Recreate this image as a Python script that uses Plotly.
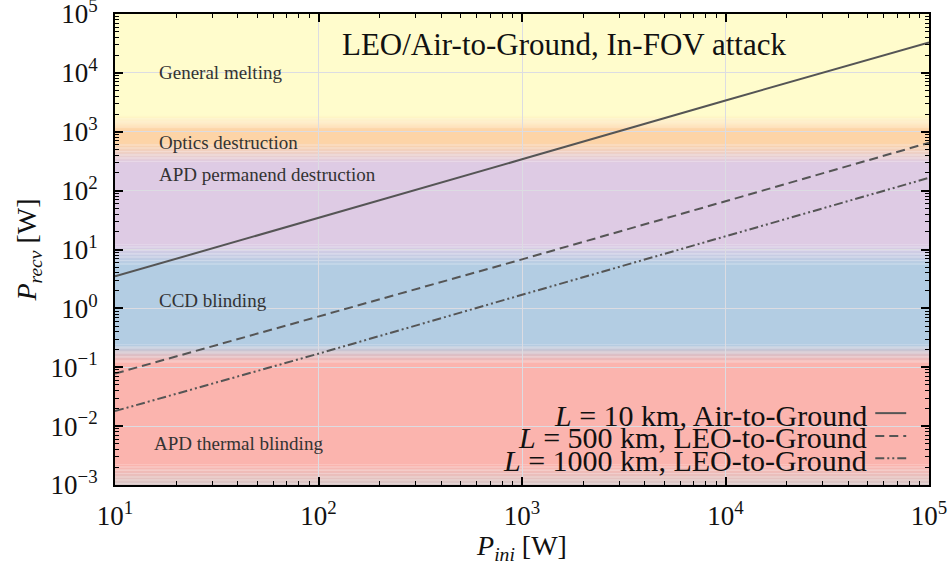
import plotly.graph_objects as go
import math

# ---------------- data ----------------
p_ini = [10, 100, 1000, 10000, 100000]
recv_10km = [3.5, 34, 340, 3400, 33000]
recv_500km = [0.078, 0.72, 6.8, 66, 650]
recv_1000km = [0.018, 0.17, 1.7, 16.5, 165]

series_names = ["<i>L</i> = 10 km, Air-to-Ground",
                "<i>L</i> = 500 km, LEO-to-Ground",
                "<i>L</i> = 1000 km, LEO-to-Ground"]
series_dash = ["solid", "9px,5px", "9px,3px,2px,3px,2px,3px"]

# bands (top to bottom): colour and label
band_colors = ["#fffccc", "#fdd4a7", "#decbe4", "#b3cde3", "#fbb4ae", "#d9c9c9"]
band_labels = ["General melting", "Optics destruction", "APD permanend destruction",
               "CCD blinding", "APD thermal blinding"]
band_label_y = [1.0e4, 650, 190, 1.34, 0.005]          # P_recv of label centres
# gradient transitions between consecutive bands (upper edge, lower edge) in W
transitions = [(1930, 1070), (646, 295), (12.0, 5.5), (0.24, 0.119), (0.0022, 0.001)]
y_top, y_bottom = 1e5, 1e-3
x_ticks = [10, 100, 1000, 10000, 100000]
y_ticks = [1e-3, 1e-2, 1e-1, 1, 10, 100, 1e3, 1e4, 1e5]
x_ticktext = ["10<sup>%d</sup>" % e for e in range(1, 6)]
y_ticktext = ["10<sup>%s</sup>" % ("−%d" % -e if e < 0 else "%d" % e) for e in range(-3, 6)]

# ---------------- figure ----------------
FONT = "Liberation Serif"
fig = go.Figure()
line_col = "#555555"
for y, name, dash in zip([recv_10km, recv_500km, recv_1000km], series_names, series_dash):
    fig.add_trace(go.Scatter(x=p_ini, y=y, mode="lines", name=name,
                             line=dict(color=line_col, width=2, dash=dash),
                             showlegend=False))


def hex2rgb(h):
    h = h.lstrip("#")
    return tuple(int(h[i:i + 2], 16) for i in (0, 2, 4))


def mix(c1, c2, t):
    a, b = hex2rgb(c1), hex2rgb(c2)
    return "rgb(%d,%d,%d)" % tuple(round(a[i] + (b[i] - a[i]) * t) for i in range(3))


shapes = []
upper = y_top
for i, col in enumerate(band_colors[:-1]):
    hi, lo = transitions[i]
    shapes.append(dict(type="rect", xref="paper", yref="y", x0=0, x1=1, y0=hi, y1=upper,
                       fillcolor=col, line=dict(width=0), layer="below"))
    n = 14
    lhi, llo = math.log10(hi), math.log10(lo)
    for k in range(n):
        a = lhi + (llo - lhi) * k / n
        b = lhi + (llo - lhi) * (k + 1) / n
        shapes.append(dict(type="rect", xref="paper", yref="y", x0=0, x1=1,
                           y0=10 ** b, y1=10 ** a,
                           fillcolor=mix(col, band_colors[i + 1], (k + 0.5) / n),
                           line=dict(width=0), layer="below"))
    upper = lo
if upper > y_bottom:
    shapes.append(dict(type="rect", xref="paper", yref="y", x0=0, x1=1, y0=y_bottom, y1=upper,
                       fillcolor=band_colors[-1], line=dict(width=0), layer="below"))

annotations = []
for lab, yv in zip(band_labels, band_label_y):
    annotations.append(dict(text=lab, xref="paper", yref="y",
                            x=0.052 if lab != "APD thermal blinding" else 0.045,
                            y=math.log10(yv), xanchor="left", yanchor="middle", showarrow=False,
                            font=dict(family=FONT, size=19, color="#333333")))

annotations.append(dict(text="LEO/Air-to-Ground, In-FOV attack", xref="paper", yref="paper",
                        x=0.552, y=0.936, xanchor="center", yanchor="middle", showarrow=False,
                        font=dict(family=FONT, size=31, color="#111111")))

# manual legend (symbol on right side)
leg_y = [0.1486, 0.0998, 0.053]
for name, dash, ly in zip(series_names, series_dash, leg_y):
    annotations.append(dict(text=name, xref="paper", yref="paper", x=0.926, y=ly,
                            xanchor="right", yanchor="middle", showarrow=False,
                            font=dict(family=FONT, size=30, color="#111111")))
    shapes.append(dict(type="line", xref="paper", yref="paper", x0=0.934, x1=0.972,
                       y0=ly + 0.004, y1=ly + 0.004, line=dict(color=line_col, width=2, dash=dash),
                       layer="above"))

minor_x = [m * 10 ** e for e in range(1, 5) for m in range(2, 10)]
minor_y = [m * 10 ** e for e in range(-3, 5) for m in range(2, 10)]

axis_common = dict(type="log", showline=True, linecolor="black", linewidth=2, mirror="allticks",
                   ticks="inside", ticklen=8, tickwidth=1.5, tickcolor="black",
                   showgrid=True, gridcolor="#dcdce2", gridwidth=1, zeroline=False,
                   automargin=False, ticklabeloverflow="allow",
                   tickfont=dict(family=FONT, size=27, color="#111111"))

fig.update_layout(
    width=951, height=565,
    margin=dict(l=115, r=22, t=14, b=80),
    paper_bgcolor="white", plot_bgcolor="rgba(0,0,0,0)",
    shapes=shapes, annotations=annotations,
    xaxis=dict(**axis_common, range=[1, 5], tickmode="array", tickvals=x_ticks, ticktext=x_ticktext,
               ticklabelstandoff=6,
               minor=dict(tickmode="array", tickvals=minor_x, ticks="inside", ticklen=4,
                          tickcolor="black", tickwidth=1.2, showgrid=False),
               title=dict(text="<i>P</i><sub><i>ini</i></sub> [W]", standoff=4,
                          font=dict(family=FONT, size=28, color="#111111"))),
    yaxis=dict(**axis_common, range=[-3, 5], tickmode="array", tickvals=y_ticks, ticktext=y_ticktext,
               ticklabelstandoff=10,
               minor=dict(tickmode="array", tickvals=minor_y, ticks="inside", ticklen=4,
                          tickcolor="black", tickwidth=1.2, showgrid=False),
               title=dict(text="<i>P</i><sub><i>recv</i></sub> [W]", standoff=6,
                          font=dict(family=FONT, size=28, color="#111111"))),
)

fig.write_html("out.html")
